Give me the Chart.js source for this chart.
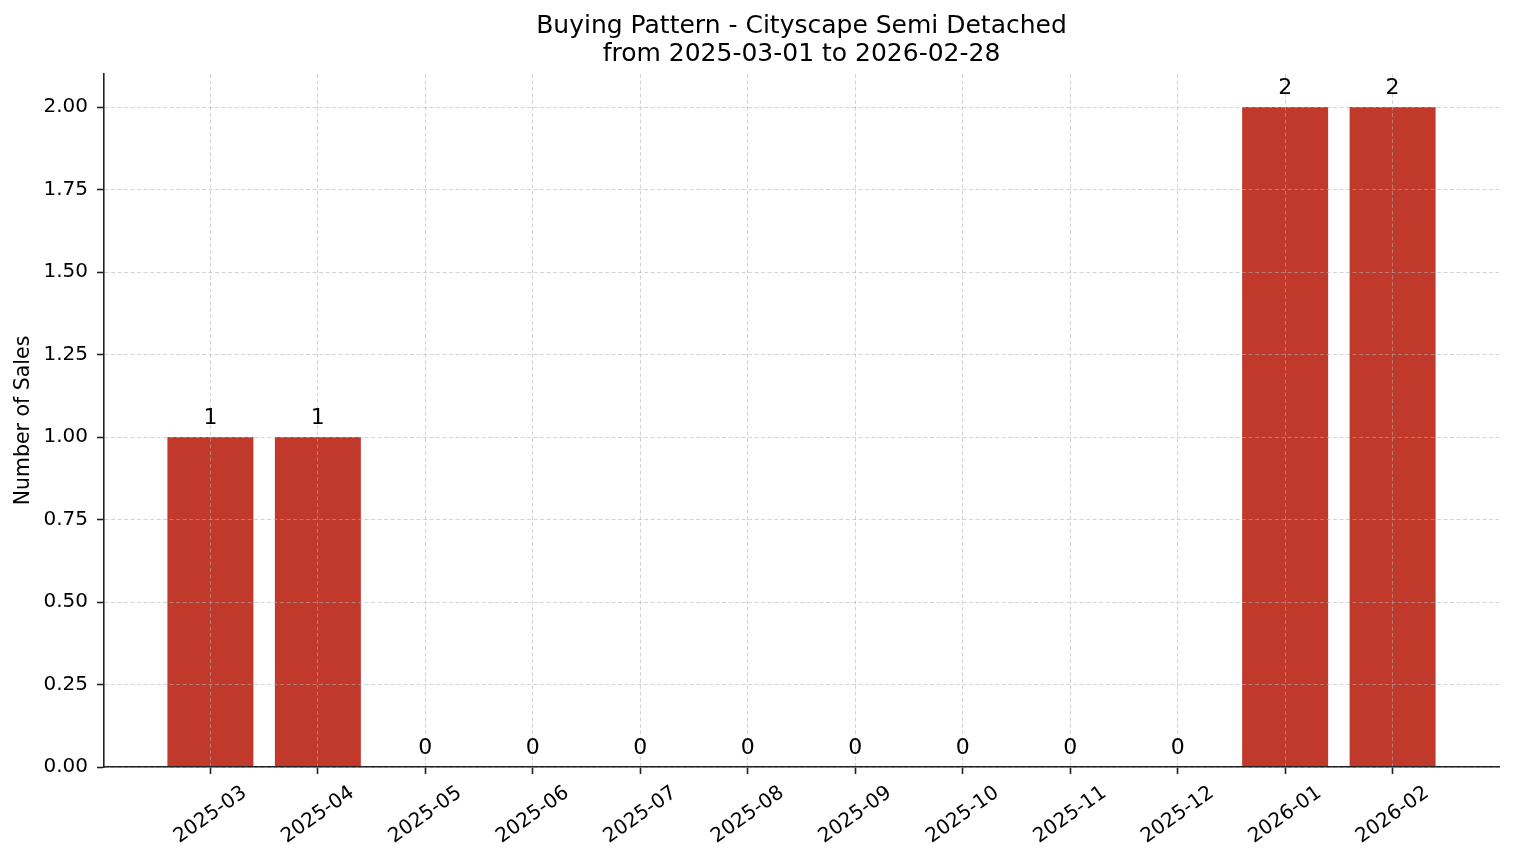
<!DOCTYPE html>
<html>
<head>
<meta charset="utf-8">
<title>Buying Pattern - Cityscape Semi Detached</title>
<script src="https://cdn.jsdelivr.net/npm/chart.js@4.4.1/dist/chart.umd.min.js"></script>
<style>
  html, body { margin: 0; padding: 0; background: #fff; }
  #wrap { width: 1514px; height: 863px; }
</style>
</head>
<body>
<div id="wrap"><canvas id="salesChart" width="1514" height="863"></canvas></div>
<script>
// data
const months = ['2025-03', '2025-04', '2025-05', '2025-06', '2025-07', '2025-08',
                '2025-09', '2025-10', '2025-11', '2025-12', '2026-01', '2026-02'];
const sales = [1, 1, 0, 0, 0, 0, 0, 0, 0, 0, 2, 2];
const yTicks = [0, 0.25, 0.5, 0.75, 1, 1.25, 1.5, 1.75, 2];
const titleLines = ['Buying Pattern - Cityscape Semi Detached', 'from 2025-03-01 to 2026-02-28'];
const yLabel = 'Number of Sales';

const FONT = "'DejaVu Sans', 'Liberation Sans', sans-serif";
const barColor = '#c0392b';
const gridColor = 'rgba(176,176,176,0.55)';
const axisColor = '#222';

// title, rotated month labels and value labels
const textPlugin = {
	id: 'textPlugin',
	afterDraw(chart) {
		const ctx = chart.ctx;
		const area = chart.chartArea;
		const xScale = chart.scales.x;
		ctx.save();
		ctx.fillStyle = '#000';
		ctx.textAlign = 'center';

		// title
		ctx.font = '25px ' + FONT;
		ctx.textBaseline = 'alphabetic';
		const cx = (area.left + area.right) / 2;
		ctx.fillText(titleLines[0], cx, 33);
		ctx.fillText(titleLines[1], cx, 61);

		// value labels above bars
		const meta = chart.getDatasetMeta(0);
		ctx.font = '22px ' + FONT;
		meta.data.forEach((bar, i) => {
			ctx.fillText(String(sales[i]), bar.x, bar.y - 13);
		});

		// x tick labels, rotated 35 deg, centred under the tick
		ctx.font = '20px ' + FONT;
		ctx.textBaseline = 'middle';
		months.forEach((m, i) => {
			const x = xScale.getPixelForValue(i);
			ctx.save();
			ctx.translate(x, area.bottom + 48);
			ctx.rotate(-35 * Math.PI / 180);
			ctx.fillText(m, 0, 0);
			ctx.restore();
		});
		ctx.restore();
	}
};

const ctx = document.getElementById('salesChart');
const chart = new Chart(ctx, {
	type: 'bar',
	data: {
		datasets: [
			{
				data: sales.map((v, i) => ({ x: i, y: v })),
				backgroundColor: barColor,
				borderWidth: 0,
				barPercentage: 0.8,
				categoryPercentage: 1.0,
			},
		],
	},
	options: {
		responsive: false,
		animation: false,
		devicePixelRatio: 1,
		layout: {
			padding: { top: 74, right: 15, left: 0, bottom: 0 },
		},
		plugins: {
			legend: { display: false },
			tooltip: { enabled: false },
			title: { display: false },
		},
		scales: {
			x: {
				type: 'linear',
				min: -0.99,
				max: 11.99,
				offset: false,
				afterBuildTicks: (scale) => {
					scale.ticks = months.map((m, i) => ({ value: i }));
				},
				afterFit: (scale) => {
					scale.height = 96;
				},
				ticks: { display: false },
				grid: {
					offset: false,
					color: gridColor,
					lineWidth: 1,
					tickLength: 7,
					tickColor: axisColor,
					tickWidth: 1.6,
					tickBorderDash: [],
					z: 1,
				},
				border: { color: axisColor, width: 1.6, dash: [4, 2.5], z: 2 },
			},
			y: {
				min: 0,
				max: 2.1,
				afterBuildTicks: (scale) => {
					scale.ticks = yTicks.map((v) => ({ value: v }));
				},
				afterFit: (scale) => {
					scale.width = 104;
				},
				ticks: {
					color: '#000',
					padding: 9,
					font: { family: FONT, size: 20 },
					callback: (v) => Number(v).toFixed(2),
				},
				title: {
					display: true,
					text: yLabel,
					color: '#000',
					font: { family: FONT, size: 20.5 },
					padding: { top: 11, bottom: 0 },
				},
				grid: {
					color: gridColor,
					lineWidth: 1,
					tickLength: 7,
					tickColor: axisColor,
					tickWidth: 1.6,
					tickBorderDash: [],
					z: 1,
				},
				border: { color: axisColor, width: 1.6, dash: [4, 2.5], z: 2 },
			},
		},
	},
	plugins: [textPlugin],
});
</script>
</body>
</html>
